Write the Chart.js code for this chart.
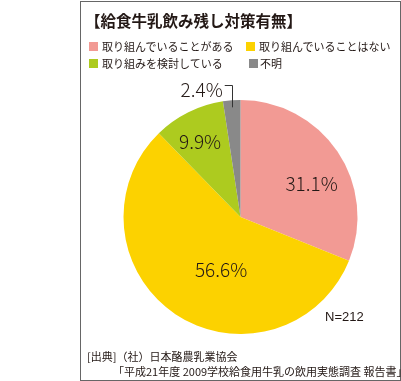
<!DOCTYPE html>
<html><head><meta charset="utf-8">
<script src="https://cdn.jsdelivr.net/npm/chart.js@4/dist/chart.umd.min.js"></script>
<style>
html,body{margin:0;padding:0;background:#fff;}
#wrap{position:relative;width:401px;height:381px;overflow:hidden;font-family:"Noto Sans CJK JP","Noto Sans",sans-serif;color:#231815;}
#frame{position:absolute;left:80px;top:1px;width:321px;height:380px;box-sizing:border-box;border:1px solid #666;}
#c{position:absolute;left:0;top:0;}
#title{position:absolute;left:85px;top:11px;font-size:15.5px;line-height:18px;font-weight:bold;white-space:nowrap;}
.leg{position:absolute;font-size:11px;line-height:13px;white-space:nowrap;}
.leg i{position:absolute;left:0;top:2px;width:9px;height:9px;}
.leg span{position:absolute;left:13px;top:0;}
.note{position:absolute;font-size:11px;line-height:12px;white-space:nowrap;}
#n{position:absolute;left:325px;top:309px;font-size:13px;line-height:16px;font-family:"Liberation Sans","Noto Sans",sans-serif;color:#231815;}
</style></head>
<body>
<div id="wrap">
  <div id="frame"></div>
  <canvas id="c" width="401" height="381"></canvas>
  <div id="title"></div>
  <div id="legend"></div>
  <div id="n"></div>
  <div id="src1" class="note" style="left:87px;top:350px;"></div>
  <div id="src2" class="note" style="left:113px;top:365px;"></div>
</div>
<script>
// ---- data ----
const titleText = "【給食牛乳飲み残し対策有無】";
const categories = ["取り組んでいることがある", "取り組んでいることはない", "取り組みを検討している", "不明"];
const values = [31.1, 56.6, 9.9, 2.4];
const sliceColors = ["#F29A94", "#FCD200", "#ADCB1F", "#898989"];
const sampleText = "N=212";
const sourceLines = ["[出典]（社）日本酪農乳業協会", "「平成21年度 2009学校給食用牛乳の飲用実態調査 報告書」"];

// ---- text (HTML) ----
document.getElementById('title').textContent = titleText;
document.getElementById('n').textContent = sampleText;
document.getElementById('src1').textContent = sourceLines[0];
document.getElementById('src2').textContent = sourceLines[1];
const legendPos = [[89, 40], [246, 40], [89, 57], [249, 57]];
const legendEl = document.getElementById('legend');
categories.forEach((c, i) => {
  const d = document.createElement('div');
  d.className = 'leg';
  d.style.left = legendPos[i][0] + 'px';
  d.style.top = legendPos[i][1] + 'px';
  const b = document.createElement('i'); b.style.background = sliceColors[i];
  const s = document.createElement('span'); s.textContent = c;
  if (i === 3) s.style.left = '11px';
  d.appendChild(b); d.appendChild(s);
  legendEl.appendChild(d);
});

// ---- label placement (angle shift in degrees, radius factor) ----
const labelPlace = [[9, 0.67], [-13.6, 0.48], [-1.8, 0.73], [-12.6, 1.14]];

const labelPlugin = {
  id: 'pctLabels',
  afterDatasetsDraw(chart) {
    const ctx = chart.ctx;
    const meta = chart.getDatasetMeta(0);
    ctx.save();
    ctx.font = '300 19px "Noto Sans CJK JP", "Noto Sans", sans-serif';
    ctx.fillStyle = '#231815';
    ctx.textAlign = 'center';
    ctx.textBaseline = 'middle';
    meta.data.forEach((arc, i) => {
      const p = arc.getProps(['x', 'y', 'startAngle', 'endAngle', 'outerRadius'], true);
      const mid = (p.startAngle + p.endAngle) / 2;
      const a = mid + labelPlace[i][0] * Math.PI / 180;
      const r = p.outerRadius * labelPlace[i][1];
      const lx = p.x + Math.cos(a) * r;
      const ly = p.y + Math.sin(a) * r;
      const txt = values[i].toFixed(1) + '%';
      ctx.fillText(txt, lx, ly);
      if (labelPlace[i][1] > 1) {
        // leader line into the slice
        const w = ctx.measureText(txt).width;
        const ax = p.x + Math.cos(mid) * p.outerRadius * 0.94;
        const ay = p.y + Math.sin(mid) * p.outerRadius * 0.94;
        const hy = ly - 4;
        ctx.strokeStyle = '#333';
        ctx.lineWidth = 1;
        ctx.beginPath();
        ctx.moveTo(lx + w / 2 + 2, Math.round(hy) + 0.5);
        ctx.lineTo(Math.round(ax) + 0.5, Math.round(hy) + 0.5);
        ctx.lineTo(Math.round(ax) + 0.5, ay);
        ctx.stroke();
      }
    });
    ctx.restore();
  }
};

new Chart(document.getElementById('c'), {
  type: 'pie',
  data: {
    labels: categories,
    datasets: [{ data: values, backgroundColor: sliceColors, borderWidth: 0 }]
  },
  options: {
    responsive: false,
    animation: false,
    layout: { padding: { left: 123.5, right: 43.5, top: 100, bottom: 47 } },
    plugins: { legend: { display: false }, tooltip: { enabled: false }, title: { display: false } }
  },
  plugins: [labelPlugin]
});
</script>
</body></html>
